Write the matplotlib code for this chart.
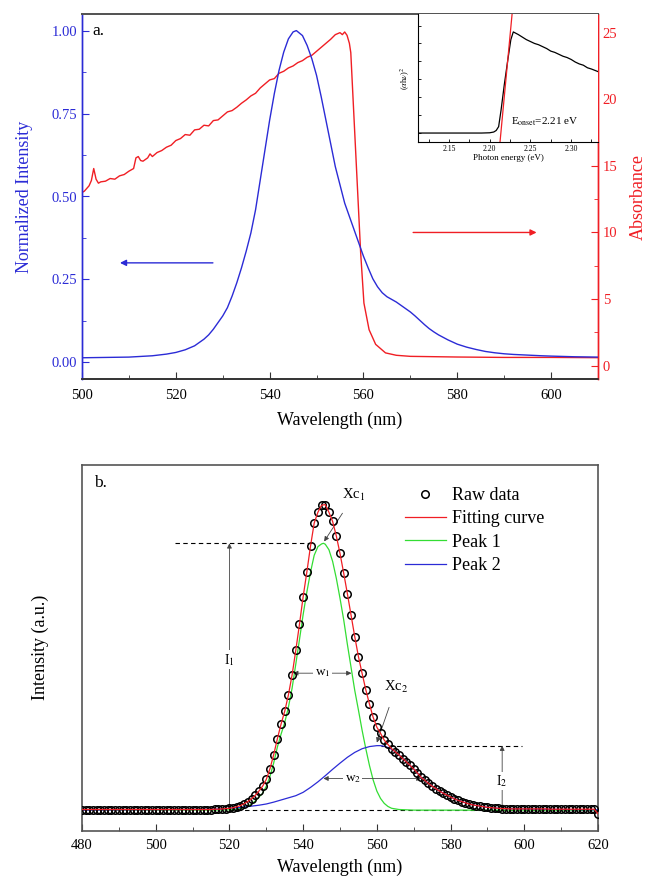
import matplotlib
matplotlib.use('Agg')
import matplotlib.pyplot as plt
from matplotlib.ticker import MultipleLocator

plt.rcParams['font.family'] = ['Liberation Serif', 'DejaVu Serif']
plt.rcParams['mathtext.fontset'] = 'stix'

# ---- panel a: PL spectrum (left axis) and absorbance (right axis) ----
pl_x = [500, 505, 510, 515, 518, 520, 522, 524, 526, 527, 528, 529, 530, 531, 532, 533, 534,
        535, 536, 537, 538, 539, 540, 541, 542, 543, 544, 545, 545.7, 547, 548, 549, 550,
        551, 552, 553, 554, 555, 556, 557, 558, 559, 560, 561, 562, 563, 564, 565, 566,
        567, 568, 569, 570, 571, 572, 573, 574, 575, 576, 578, 580, 582, 584, 586, 588,
        590, 592, 595, 598, 600, 605, 610]
pl_y = [0.014, 0.015, 0.016, 0.02, 0.025, 0.03, 0.038, 0.05, 0.07, 0.083, 0.1, 0.12, 0.14,
        0.165, 0.2, 0.24, 0.285, 0.335, 0.39, 0.46, 0.55, 0.64, 0.73, 0.81, 0.88, 0.935,
        0.975, 0.996, 1.0, 0.985, 0.955, 0.915, 0.865, 0.8, 0.73, 0.66, 0.59, 0.535, 0.48,
        0.44, 0.4, 0.36, 0.32, 0.285, 0.252, 0.228, 0.21, 0.198, 0.19, 0.182, 0.172, 0.162,
        0.152, 0.14, 0.127, 0.114, 0.102, 0.092, 0.083, 0.068, 0.055, 0.046, 0.039, 0.033,
        0.029, 0.026, 0.024, 0.022, 0.02, 0.019, 0.017, 0.016]

abs_x = [500, 500.5, 501, 501.5, 502, 502.5, 503, 503.5, 504, 505, 506, 507, 508, 509, 510,
         511, 511.5, 512, 512.5, 513, 514, 514.5, 515, 516, 517, 518, 519, 520, 521, 522,
         523, 524, 525, 526, 527, 528, 529, 530, 531, 532, 533, 534, 535, 536, 537, 538,
         539, 540, 541, 542, 543, 544, 545, 546, 547, 548, 549, 550, 551, 552, 553, 554,
         555, 555.5, 556, 556.5, 557, 557.3, 558, 558.7, 559.4, 560.1, 561.2, 562.6, 564.7,
         567, 570, 580, 590, 600, 610]
abs_y = [13.0, 13.1, 13.3, 13.5, 13.9, 14.8, 14.0, 13.7, 13.8, 13.85, 14.05, 14.0, 14.25,
         14.35, 14.6, 14.8, 15.6, 15.7, 15.4, 15.35, 15.6, 15.9, 15.7, 16.0, 16.15, 16.4,
         16.55, 16.9, 17.05, 17.35, 17.3, 17.7, 17.75, 18.05, 18.0, 18.4, 18.45, 18.75,
         19.05, 19.15, 19.4, 19.7, 19.95, 20.25, 20.45, 20.85, 21.15, 21.45, 21.55, 21.95,
         22.1, 22.35, 22.5, 22.75, 22.9, 23.15, 23.3, 23.6, 23.9, 24.2, 24.5, 24.85, 25.0,
         24.85, 25.05, 24.8, 24.2, 23.5, 18.5, 13.5, 8.5, 4.7, 2.7, 1.6, 0.96, 0.78, 0.7,
         0.65, 0.62, 0.62, 0.6]

# inset: Tauc plot
tauc_x = [2.112, 2.13, 2.15, 2.17, 2.19, 2.200, 2.205, 2.208, 2.211, 2.214, 2.218, 2.222,
          2.226, 2.229, 2.232, 2.235, 2.24, 2.245, 2.25, 2.255, 2.26, 2.265, 2.27, 2.275,
          2.28, 2.285, 2.29, 2.295, 2.30, 2.305, 2.31, 2.315, 2.32, 2.325, 2.333]
tauc_y = [0.07, 0.07, 0.07, 0.07, 0.07, 0.072, 0.078, 0.09, 0.12, 0.25, 0.45, 0.63, 0.8,
          0.86, 0.85, 0.84, 0.82, 0.8, 0.785, 0.77, 0.76, 0.745, 0.73, 0.71, 0.7, 0.685,
          0.67, 0.66, 0.645, 0.625, 0.61, 0.6, 0.58, 0.57, 0.55]
tauc_fit_x = [2.2127, 2.2290]
tauc_fit_y = [0.0, 1.1]

# ---- panel b: peak fitting ----
raw_x = list(range(480, 621))
raw_y = [0.002] * 36 + [0.003] * 2 + [0.004, 0.005, 0.006, 0.008, 0.011, 0.015, 0.021,
         0.028, 0.037, 0.048, 0.062, 0.078, 0.1, 0.135, 0.18, 0.232, 0.28, 0.322, 0.375,
         0.44, 0.52, 0.605, 0.695, 0.775, 0.86, 0.935, 0.97, 0.993, 0.995, 0.97, 0.94,
         0.893, 0.836, 0.772, 0.705, 0.635, 0.565, 0.5, 0.445, 0.392, 0.345, 0.302, 0.27,
         0.25, 0.228, 0.214, 0.2, 0.19, 0.18, 0.168, 0.157, 0.146, 0.134, 0.121, 0.107,
         0.097, 0.087, 0.078, 0.07, 0.062, 0.055, 0.049, 0.043, 0.037, 0.032, 0.028, 0.024,
         0.02, 0.017, 0.015, 0.013, 0.011, 0.009, 0.008, 0.007, 0.006, 0.005, 0.005,
         0.004] + [0.004] * 10 + [0.003] * 13 + [-0.012]

peak1_x = [480, 515, 520, 522, 524, 526, 527, 528, 529, 530, 531, 532, 533, 534, 535, 536,
           537, 538, 539, 540, 541, 542, 543, 544, 545, 545.5, 546, 547, 548, 549, 550,
           551, 552, 553, 554, 555, 556, 557, 558, 559, 560, 561, 562, 563, 564, 566, 570,
           620]
peak1_y = [0.0, 0.0, 0.001, 0.003, 0.008, 0.02, 0.03, 0.042, 0.055, 0.078, 0.11, 0.153,
           0.205, 0.247, 0.285, 0.335, 0.397, 0.475, 0.555, 0.637, 0.71, 0.775, 0.83, 0.858,
           0.867, 0.869, 0.866, 0.848, 0.81, 0.755, 0.69, 0.62, 0.54, 0.465, 0.39, 0.326,
           0.26, 0.2, 0.145, 0.098, 0.062, 0.038, 0.022, 0.012, 0.006, 0.002, 0.0, 0.0]

peak2_x = [480, 510, 515, 518, 520, 524, 528, 530, 532, 534, 536, 538, 540, 542, 544, 546,
           548, 550, 552, 554, 556, 558, 560, 561, 562, 563, 564, 565, 566, 568, 570, 572,
           574, 576, 578, 580, 582, 584, 586, 588, 590, 594, 598, 605, 612, 620]
peak2_y = [0.0, 0.002, 0.003, 0.004, 0.006, 0.01, 0.016, 0.02, 0.026, 0.033, 0.04, 0.047,
           0.058, 0.074, 0.092, 0.112, 0.133, 0.153, 0.172, 0.188, 0.2, 0.207, 0.21, 0.21,
           0.208, 0.204, 0.198, 0.19, 0.18, 0.157, 0.134, 0.107, 0.087, 0.07, 0.055, 0.043,
           0.032, 0.024, 0.017, 0.013, 0.009, 0.005, 0.004, 0.003, 0.002, 0.001]

xc1, i1, w1_left, w1_right, w1_level = 545.5, 0.869, 537.3, 553.1, 0.446
xc2, i2, w2_left, w2_right, w2_level = 560.0, 0.21, 545.5, 572.1, 0.103

blue = '#2b2bd6'
red = '#f01e24'
green = '#33dd33'
gray = '#333333'

fig = plt.figure(figsize=(6.49, 8.85), dpi=100)

# ================= panel a =================
ax = fig.add_axes([82 / 649, 1 - 379 / 885, 516 / 649, 365 / 885])
ax2 = ax.twinx()
ax.plot(pl_x, pl_y, color=blue, lw=1.0, zorder=3)
ax2.plot(abs_x, abs_y, color=red, lw=1.0)
ax.set_zorder(ax2.get_zorder() + 1)
ax.patch.set_visible(False)

ax.set_xlim(500, 610)
ax.set_ylim(-0.05, 1.05)
ax2.set_ylim(-1.0, 26.4)
ax.xaxis.set_major_locator(MultipleLocator(20))
ax.xaxis.set_minor_locator(MultipleLocator(10))
ax.yaxis.set_major_locator(MultipleLocator(0.25))
ax.yaxis.set_minor_locator(MultipleLocator(0.125))
ax2.yaxis.set_major_locator(MultipleLocator(5))
ax2.yaxis.set_minor_locator(MultipleLocator(2.5))
ax.yaxis.set_major_formatter(matplotlib.ticker.FormatStrFormatter('%.2f'))

ax.tick_params(axis='both', which='both', direction='in', labelsize=10.5)
ax.tick_params(which='major', length=5)
ax.tick_params(which='minor', length=3)
ax.tick_params(axis='y', which='both', colors=blue)
ax.tick_params(axis='x', which='both', colors=gray, labelcolor='black', top=False, pad=7)
ax2.tick_params(axis='y', which='both', direction='in', colors=red, labelsize=10.5)
ax2.tick_params(which='major', length=5)
ax2.tick_params(which='minor', length=3)

for a in (ax, ax2):
    a.spines['left'].set_color(blue)
    a.spines['right'].set_color(red)
    a.spines['top'].set_color('#555555')
    a.spines['bottom'].set_color(gray)
    a.spines['top'].set_linewidth(1.4)
    a.spines['bottom'].set_linewidth(1.2)
    a.spines['left'].set_linewidth(1.0)
    a.spines['right'].set_linewidth(1.0)

ax.set_xlabel('Wavelength (nm)', fontsize=13, labelpad=7)
ax.set_ylabel('Normalized Intensity', fontsize=13, color=blue, labelpad=13)
ax2.set_ylabel('Absorbance', fontsize=13, color=red, labelpad=9)
ax.text(502.3, 1.0, 'a.', fontsize=12.5, va='center', ha='left')

ax.annotate('', xy=(507.5, 0.30), xytext=(528.5, 0.30),
            arrowprops=dict(arrowstyle='-|>', color=blue, lw=1.0, mutation_scale=9))
ax2.annotate('', xy=(597.5, 10), xytext=(570, 10),
             arrowprops=dict(arrowstyle='-|>', color=red, lw=1.0, mutation_scale=9))

# inset
axin = fig.add_axes([418 / 649, 1 - 142 / 885, 180 / 649, 128 / 885])
axin.set_zorder(ax.get_zorder() + 1)
axin.plot(tauc_x, tauc_y, color='black', lw=0.9)
axin.plot(tauc_fit_x, tauc_fit_y, color=red, lw=0.9)
axin.set_xlim(2.112, 2.333)
axin.set_ylim(0, 1)
axin.xaxis.set_major_locator(MultipleLocator(0.05))
axin.xaxis.set_minor_locator(MultipleLocator(0.025))
axin.set_yticks([0.07, 0.21, 0.35, 0.49, 0.63, 0.77, 0.91])
axin.set_yticklabels([])
axin.tick_params(which='both', direction='in', labelsize=5.5, length=2, pad=2, width=0.6)
axin.spines['top'].set_visible(False)
axin.spines['right'].set_visible(False)
axin.spines['left'].set_linewidth(0.8)
axin.spines['bottom'].set_linewidth(0.8)
axin.set_xlabel('Photon energy (eV)', fontsize=6.5, labelpad=1)
axin.set_ylabel(r'($\alpha$h$\nu$)$^2$', fontsize=6, labelpad=2)
axin.text(2.226, 0.16, r'E$_{\mathrm{onset}}$=2.21 eV', fontsize=8, va='center', ha='left')

# ================= panel b =================
bx = fig.add_axes([82 / 649, 1 - 830.7 / 885, 516 / 649, 365.7 / 885])
bx.plot(raw_x, raw_y, 'o', mfc='none', mec='black', ms=5.4, mew=1.1, label='Raw data',
        zorder=4)
bx.plot(raw_x, raw_y, color=red, lw=0.9, label='Fitting curve', zorder=5)
bx.plot(peak1_x, peak1_y, color=green, lw=0.9, label='Peak 1', zorder=3)
bx.plot(peak2_x, peak2_y, color=blue, lw=0.9, label='Peak 2', zorder=3)

bx.set_xlim(480, 620)
bx.set_ylim(-0.067, 1.124)
bx.xaxis.set_major_locator(MultipleLocator(20))
bx.xaxis.set_minor_locator(MultipleLocator(10))
bx.set_yticks([])
bx.tick_params(axis='x', which='both', direction='in', labelsize=10.5, colors=gray,
               labelcolor='black', pad=6)
bx.tick_params(which='major', length=5)
bx.tick_params(which='minor', length=3)
for s in bx.spines.values():
    s.set_color('#555555')
    s.set_linewidth(1.2)
bx.set_xlabel('Wavelength (nm)', fontsize=13, labelpad=5)
bx.set_ylabel('Intensity (a.u.)', fontsize=13, labelpad=24)
bx.text(483.2, 1.065, 'b.', fontsize=12.5, va='center', ha='left')

dash = dict(color='black', lw=0.8, ls=(0, (4, 3)))
bx.plot([505.2, 543], [i1, i1], **dash)
bx.plot([520, 620], [0, 0], **dash)
bx.plot([561, 599.3], [i2, i2], **dash)

arr = dict(arrowstyle='<|-|>', color='#444444', lw=0.6, mutation_scale=7,
           shrinkA=0, shrinkB=0)
bx.annotate('', xy=(520, i1), xytext=(520, 0), arrowprops=arr)
bx.text(520, 0.49, r'I$_1$', fontsize=10, ha='center', va='center',
        bbox=dict(fc='white', ec='none', pad=1))
bx.annotate('', xy=(594, i2), xytext=(594, 0), arrowprops=arr)
bx.text(594, 0.095, r'I$_2$', fontsize=10, ha='center', va='center',
        bbox=dict(fc='white', ec='none', pad=1))

bx.annotate('', xy=(w1_left, w1_level), xytext=(w1_right, w1_level), arrowprops=arr)
bx.text(545.2, w1_level, r'w$_1$', fontsize=9.5, ha='center', va='center',
        bbox=dict(fc='white', ec='none', pad=1))
bx.annotate('', xy=(w2_left, w2_level), xytext=(w2_right, w2_level), arrowprops=arr)
bx.text(553.5, w2_level, r'w$_2$', fontsize=9.5, ha='center', va='center',
        bbox=dict(fc='white', ec='none', pad=1))

bx.annotate(r'Xc$_1$', xy=(xc1 + 0.2, i1 + 0.006), xytext=(553.8, 1.025), fontsize=10.5,
            ha='center', va='center',
            arrowprops=dict(arrowstyle='-|>', color='#444444', lw=0.6, mutation_scale=7,
                            shrinkA=6, shrinkB=0))
bx.annotate(r'Xc$_2$', xy=(xc2, i2 + 0.01), xytext=(565.2, 0.40), fontsize=10.5,
            ha='center', va='center',
            arrowprops=dict(arrowstyle='-|>', color='#444444', lw=0.6, mutation_scale=7,
                            shrinkA=7, shrinkB=0))

bx.legend(loc='upper left', bbox_to_anchor=(0.625, 0.94), frameon=False, fontsize=13,
          handlelength=2.3, handletextpad=0.35, labelspacing=0.35, borderpad=0,
          borderaxespad=0)

fig.savefig('out.png', dpi=100)
